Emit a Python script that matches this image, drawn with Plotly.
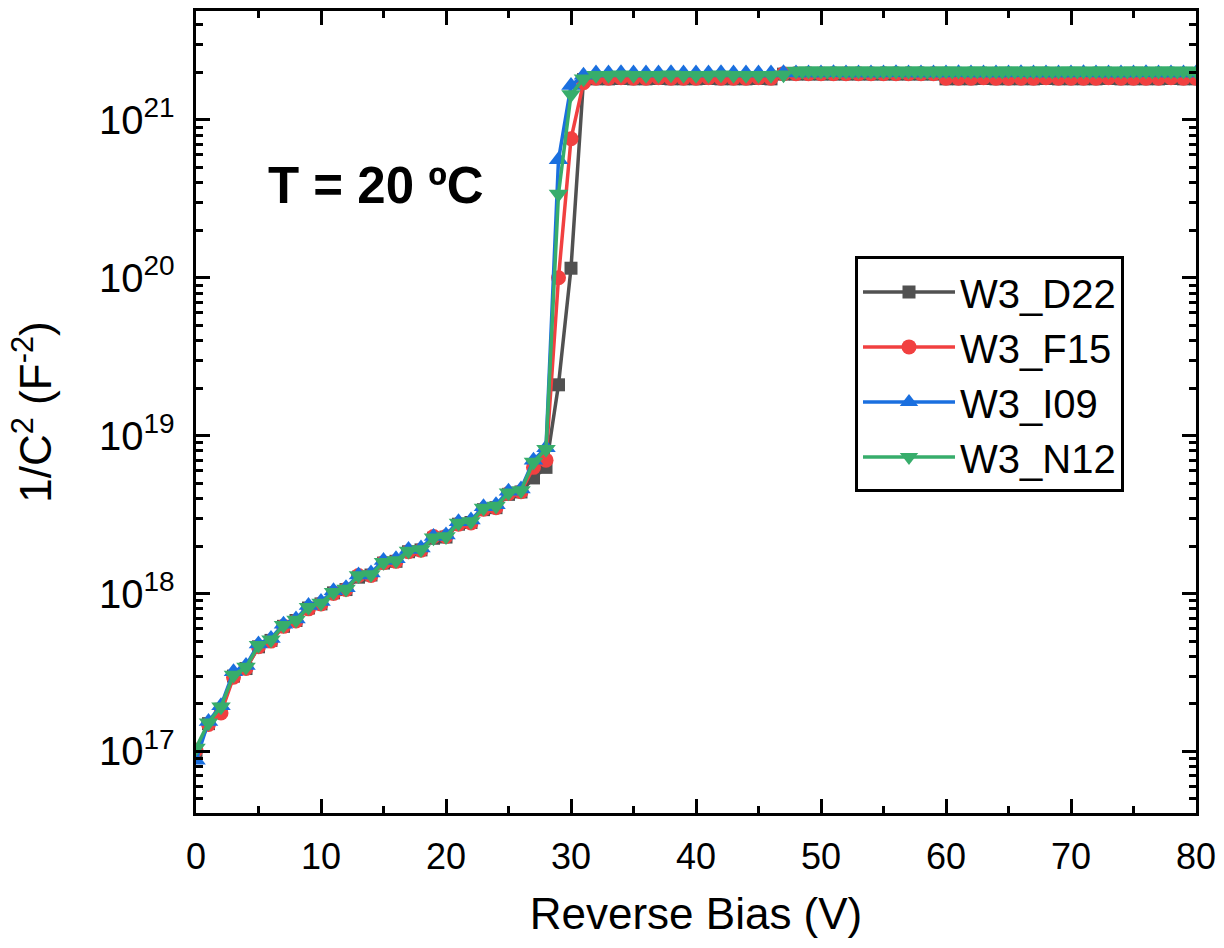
import plotly.graph_objects as go

# Reverse bias sweep (V)
bias_v = list(range(81))
bias_n12 = list(range(48)) + [48 + 0.5 * k for k in range(65)]

# 1/C^2 (F^-2) for each device, 0..31 V (depletion + punch-through)
d22_rise = [1.00e17, 1.50e17, 1.85e17, 3.00e17, 3.35e17, 4.60e17, 5.05e17, 6.20e17,
            6.75e17, 8.10e17, 8.60e17, 1.01e18, 1.06e18, 1.27e18, 1.31e18, 1.56e18,
            1.60e18, 1.84e18, 1.89e18, 2.24e18, 2.28e18, 2.75e18, 2.82e18, 3.40e18,
            3.50e18, 4.25e18, 4.40e18, 5.40e18, 6.30e18, 2.10e19, 1.15e20, 1.80e21]
f15_rise = [1.02e17, 1.48e17, 1.75e17, 2.95e17, 3.35e17, 4.60e17, 5.00e17, 6.20e17,
            6.70e17, 8.00e17, 8.60e17, 1.00e18, 1.06e18, 1.30e18, 1.30e18, 1.57e18,
            1.60e18, 1.84e18, 1.88e18, 2.30e18, 2.30e18, 2.75e18, 2.80e18, 3.42e18,
            3.50e18, 4.30e18, 4.42e18, 6.30e18, 7.00e18, 1.00e20, 7.60e20, 1.72e21]
i09_rise = [8.80e16, 1.55e17, 1.95e17, 3.20e17, 3.50e17, 4.80e17, 5.20e17, 6.40e17,
            6.90e17, 8.40e17, 8.90e17, 1.04e18, 1.09e18, 1.31e18, 1.35e18, 1.62e18,
            1.66e18, 1.90e18, 1.94e18, 2.30e18, 2.35e18, 2.85e18, 2.92e18, 3.55e18,
            3.65e18, 4.45e18, 4.60e18, 7.00e18, 8.40e18, 5.60e20, 1.65e21, 1.92e21]
n12_rise = [1.05e17, 1.52e17, 1.92e17, 3.05e17, 3.42e17, 4.70e17, 5.10e17, 6.30e17,
            6.80e17, 8.20e17, 8.70e17, 1.02e18, 1.07e18, 1.30e18, 1.32e18, 1.58e18,
            1.62e18, 1.86e18, 1.90e18, 2.26e18, 2.30e18, 2.80e18, 2.86e18, 3.48e18,
            3.58e18, 4.35e18, 4.50e18, 6.80e18, 8.20e18, 3.40e20, 1.45e21, 1.82e21]

# Saturated region, 32..80 V
d22_flat = [1.82e21, 1.82e21, 1.83e21, 1.82e21, 1.82e21, 1.83e21, 1.82e21, 1.82e21,
            1.82e21, 1.83e21, 1.82e21, 1.82e21, 1.82e21, 1.83e21, 1.82e21,
            1.95e21, 1.95e21, 1.95e21, 1.95e21, 1.95e21, 1.95e21, 1.95e21, 1.95e21,
            1.95e21, 1.95e21, 1.95e21, 1.95e21, 1.95e21,
            1.82e21, 1.82e21, 1.82e21, 1.83e21, 1.82e21, 1.82e21, 1.82e21, 1.82e21,
            1.83e21, 1.82e21, 1.82e21, 1.82e21, 1.82e21, 1.83e21, 1.82e21, 1.82e21,
            1.82e21, 1.82e21, 1.83e21, 1.82e21, 1.82e21]
f15_flat = [1.84e21, 1.84e21, 1.85e21, 1.84e21, 1.84e21, 1.85e21, 1.84e21, 1.84e21,
            1.84e21, 1.85e21, 1.84e21, 1.84e21, 1.84e21, 1.85e21, 1.84e21,
            1.96e21, 1.96e21, 1.96e21, 1.96e21, 1.96e21, 1.96e21, 1.96e21, 1.96e21,
            1.96e21, 1.96e21, 1.96e21, 1.96e21, 1.96e21,
            1.84e21, 1.84e21, 1.84e21, 1.85e21, 1.84e21, 1.84e21, 1.84e21, 1.84e21,
            1.85e21, 1.84e21, 1.84e21, 1.84e21, 1.84e21, 1.85e21, 1.84e21, 1.84e21,
            1.84e21, 1.84e21, 1.85e21, 1.84e21, 1.84e21]
i09_flat = [1.98e21, 1.98e21, 1.99e21, 1.98e21, 1.98e21, 1.98e21, 1.99e21, 1.98e21,
            1.98e21, 1.98e21, 1.99e21, 1.98e21, 1.98e21, 1.98e21, 1.98e21, 1.99e21,
            1.98e21, 1.98e21, 1.98e21, 1.99e21, 1.98e21, 1.98e21, 1.98e21, 1.98e21,
            1.99e21, 1.98e21, 1.98e21, 1.98e21, 1.98e21, 1.99e21, 1.98e21, 1.98e21,
            1.98e21, 1.98e21, 1.99e21, 1.98e21, 1.98e21, 1.98e21, 1.98e21, 1.99e21,
            1.98e21, 1.98e21, 1.98e21, 1.98e21, 1.99e21, 1.98e21, 1.98e21, 1.98e21,
            1.98e21]
n12_flat = [1.92e21, 1.92e21, 1.93e21, 1.92e21, 1.92e21, 1.92e21, 1.93e21, 1.92e21,
            1.92e21, 1.92e21, 1.93e21, 1.92e21, 1.92e21, 1.92e21, 1.92e21, 1.93e21]
n12_fine = [2.04e21, 2.04e21, 2.05e21, 2.04e21, 2.04e21, 2.04e21, 2.05e21, 2.04e21,
            2.04e21, 2.04e21, 2.05e21, 2.04e21, 2.04e21, 2.04e21, 2.04e21, 2.05e21,
            2.04e21, 2.04e21, 2.04e21, 2.05e21, 2.04e21, 2.04e21, 2.04e21, 2.04e21,
            2.05e21, 2.04e21, 2.04e21, 2.04e21, 2.04e21, 2.05e21, 2.04e21, 2.04e21,
            2.04e21, 2.04e21, 2.05e21, 2.04e21, 2.04e21, 2.04e21, 2.04e21, 2.05e21,
            2.04e21, 2.04e21, 2.04e21, 2.04e21, 2.05e21, 2.04e21, 2.04e21, 2.04e21,
            2.04e21, 2.05e21, 2.04e21, 2.04e21, 2.04e21, 2.04e21, 2.05e21, 2.04e21,
            2.04e21, 2.04e21, 2.04e21, 2.05e21, 2.04e21, 2.04e21, 2.04e21, 2.04e21,
            2.04e21]

series = [
    ("W3_D22", bias_v, d22_rise + d22_flat, "#515151", "square", 13),
    ("W3_F15", bias_v, f15_rise + f15_flat, "#F14040", "circle", 15),
    ("W3_I09", bias_v, i09_rise + i09_flat, "#1A6FDF", "triangle-up", 17),
    ("W3_N12", bias_n12, n12_rise + n12_flat + n12_fine, "#37AD6B", "triangle-down", 17),
]

fig = go.Figure()
for name, xs, ys, color, symbol, size in series:
    fig.add_trace(go.Scatter(
        x=xs, y=ys, name=name, mode="lines+markers",
        line=dict(color=color, width=3.5),
        marker=dict(symbol=symbol, size=size, color=color, line=dict(width=0)),
    ))

font_family = "Arial, 'Liberation Sans', sans-serif"

fig.update_layout(
    width=1224, height=948,
    margin=dict(l=196, r=25, t=8, b=135),
    paper_bgcolor="white", plot_bgcolor="white",
    font=dict(family=font_family, color="black"),
    showlegend=True,
    legend=dict(
        x=0.659, y=0.694, xanchor="left", yanchor="top",
        bgcolor="white", bordercolor="black", borderwidth=3,
        font=dict(size=40, family=font_family), itemwidth=92, tracegroupgap=0,
    ),
    xaxis=dict(
        range=[0, 80], tick0=0, dtick=10,
        ticks="inside", ticklen=14, tickwidth=3, tickcolor="black",
        showline=True, linewidth=3, linecolor="black", mirror="ticks",
        showgrid=False, zeroline=False,
        tickfont=dict(size=36), ticklabelstandoff=10,
        title=dict(text="Reverse Bias (V)", font=dict(size=44), standoff=22),
        minor=dict(dtick=5, ticks="inside", ticklen=7, tickwidth=3,
                   tickcolor="black", showgrid=False),
    ),
    yaxis=dict(
        type="log", range=[16.61, 21.69], dtick=1,
        exponentformat="power",
        ticks="inside", ticklen=14, tickwidth=3, tickcolor="black",
        showline=True, linewidth=3, linecolor="black", mirror="ticks",
        showgrid=False, zeroline=False,
        tickfont=dict(size=32), ticklabelstandoff=12,
        title=dict(text="1/C<sup>2</sup> (F<sup>-2</sup>)", font=dict(size=44), standoff=34),
        minor=dict(dtick="D1", ticks="inside", ticklen=7, tickwidth=3,
                   tickcolor="black", showgrid=False),
    ),
)

fig.add_annotation(
    text="<b>T = 20 ºC</b>", xref="paper", yref="paper",
    x=0.180, y=0.783, xanchor="center", yanchor="middle",
    showarrow=False, font=dict(size=51, family=font_family, color="black"),
)

fig.write_html("out.html")
